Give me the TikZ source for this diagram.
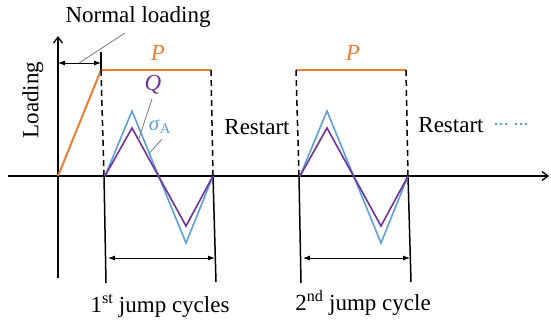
\documentclass[tikz,border=0pt]{standalone}
\usepackage{fontspec}
\setmainfont{Liberation Serif}
\usetikzlibrary{arrows.meta,calc}

\definecolor{loadorange}{RGB}{237,125,49}
\definecolor{qpurple}{RGB}{112,48,160}
\definecolor{sigblue}{RGB}{91,160,220}
\definecolor{leadgray}{RGB}{120,120,120}

\tikzset{
	lbl/.style={font=\fontsize{23}{26}\selectfont,inner sep=0pt},
	axis/.style={line width=1.3pt,-{Straight Barb[length=6pt,width=9pt]}},
	dashline/.style={line width=1.5pt,dash pattern=on 6pt off 4pt},
	bound/.style={line width=1.5pt},
	dim/.style={line width=0.8pt,{Latex[length=7pt,width=5pt]}-{Latex[length=7pt,width=5pt]}},
	leader/.style={line width=0.8pt,color=leadgray},
	pline/.style={line width=2pt,color=loadorange},
	qline/.style={line width=1.6pt,color=qpurple},
	sline/.style={line width=1.6pt,color=sigblue}
}

\begin{document}
\begin{tikzpicture}[x=1pt,y=-1pt]
	\useasboundingbox (0,0) rectangle (551,322);

	%Axes
	\coordinate (O) at (58,176);
	\coordinate (xstart) at (8,176);
	\coordinate (xend) at (549,176);
	\coordinate (ybot) at (58,278);
	\coordinate (ytop) at (58,36);
	\draw[axis] (xstart) -- (xend);
	\draw[axis] (ybot) -- (ytop);
	\node[lbl,rotate=90] at (33,100) (loading) {Loading};

	%Normal loading
	\coordinate (ramp) at (101,70);
	\draw[pline] (O) -- (ramp);
	\coordinate (nl left) at (58,63);
	\coordinate (nl right) at (101,63);
	\coordinate (tick top) at (101,52);
	\draw[bound] (tick top) -- (ramp);
	\draw[dim] (nl left) -- (nl right);
	\node[lbl] at (138,17) (normal) {Normal loading};
	\coordinate (nl lead) at (125,33);
	\coordinate (nl foot) at (79,63);
	\draw[leader] (nl lead) -- (nl foot);

	%Jump cycles
	\foreach \s/\n in {0/a,195/b}{
	\begin{scope}[xshift=\s pt]
		\coordinate (top left \n) at (101,70);
		\coordinate (top right \n) at (211,70);
		\coordinate (base left \n) at (104,176);
		\coordinate (base right \n) at (213,176);
		\coordinate (foot left \n) at (106,283);
		\coordinate (foot right \n) at (216,282);
		\draw[pline] (top left \n) -- (top right \n);
		\node[lbl,text=loadorange] at (158,53) (P \n) {\textit{P}};
		\draw[dashline] (top left \n) -- (base left \n);
		\draw[dashline] (top right \n) -- (base right \n);
		\draw[bound] (base left \n) -- (foot left \n);
		\draw[bound] (base right \n) -- (foot right \n);
		% signals
		\coordinate (start \n) at (105,176);
		\coordinate (end \n) at (213,176);
		\coordinate (s peak \n) at (132,111);
		\coordinate (s trough \n) at (186,243);
		\coordinate (q peak \n) at (132,128);
		\coordinate (q trough \n) at (186,226);
		\draw[sline] (start \n) -- (s peak \n) -- (s trough \n) -- (end \n);
		\draw[qline] (start \n) -- (q peak \n) -- (q trough \n) -- (end \n);
		% cycle span
		\coordinate (span left \n) at (108,258);
		\coordinate (span right \n) at (215,258);
		\draw[dim] (span left \n) -- (span right \n);
	\end{scope}
	}

	%Labels of the signals
	\node[lbl,text=qpurple] at (153,85) (Q) {\textit{Q}};
	\node[lbl,text=sigblue,font=\fontsize{21}{24}\selectfont] at (160,127) (sigma) {\textit{σ}\textsubscript{A}};
	\coordinate (q lead) at (152,99);
	\draw[leader] (q lead) -- ($(q peak a)!0.12!(q trough a)$);
	\coordinate (s lead) at (162,139);
	\draw[leader] (s lead) -- ($(s peak a)!0.32!(s trough a)$);

	%Restart
	\node[lbl] at (257,127) (restart a) {Restart};
	\node[lbl] at (451,125) (restart b) {Restart};
	\node[lbl,text=sigblue,font=\fontsize{15}{18}\bfseries] at (511,124) (more) {…\hspace{5pt}…};

	%Cycle names
	\node[lbl] at (160,306) (cycle a) {1\textsuperscript{st} jump cycles};
	\node[lbl] at (363,303) (cycle b) {2\textsuperscript{nd} jump cycle};
\end{tikzpicture}
\end{document}
